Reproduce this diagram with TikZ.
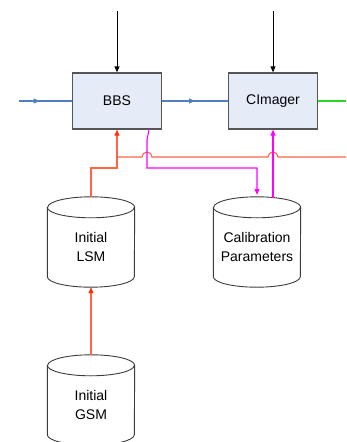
\documentclass[tikz,border=0pt]{standalone}
\usepackage{fontspec}
\setmainfont{Liberation Sans}
\usetikzlibrary{arrows.meta,decorations.markings}

\definecolor{boxfill}{RGB}{230,236,247}
\definecolor{boxline}{RGB}{85,85,85}
\definecolor{drumline}{RGB}{60,60,60}
\definecolor{flowblue}{RGB}{79,127,192}
\definecolor{flowgreen}{RGB}{40,215,40}
\definecolor{flowred}{RGB}{255,100,70}
\definecolor{tipred}{RGB}{255,51,0}
\definecolor{flowmag}{RGB}{255,0,255}

\tikzset{
  proc/.style={draw=boxline, fill=boxfill, line width=1.3pt,
    minimum width=89pt, minimum height=56pt, inner sep=0pt,
    font=\fontsize{14}{19}\selectfont},
  store/.style={minimum width=87pt, minimum height=79.5pt, inner sep=0pt,
    align=center, font=\fontsize{14}{19}\selectfont},
  tip/.style={-{Triangle[length=6pt,width=5pt]}},
  redtip/.style={-{Triangle[length=6pt,width=5pt,color=tipred]}},
  conn/.style={line width=1.1pt},
  midtip/.style={decoration={markings,
      mark=at position #1 with {\arrow{Triangle[length=6pt,width=5pt]}}},
    postaction={decorate}},
}

% cylinder outline around a store node: top ellipse centred on .north,
% bottom ellipse centred 10.5pt above .south
\newcommand\drawdrum[1]{%
  \draw[drumline, line width=0.9pt, fill=white]
    (#1.north west) -- ([yshift=10.5pt]#1.south west)
    arc[start angle=180, end angle=360, x radius=43.5pt, y radius=10.5pt]
    -- (#1.north east)
    arc[start angle=0, end angle=180, x radius=43.5pt, y radius=10.5pt]
    -- cycle;
  \draw[drumline, line width=0.9pt] (#1.north west)
    arc[start angle=180, end angle=360, x radius=43.5pt, y radius=10.5pt];
}

\begin{document}
\begin{tikzpicture}[x=1pt, y=-1pt]
  \useasboundingbox (0,0) rectangle (346,442);

  % processing steps
  \node[proc] (bbs) at (117,101) {BBS};
  \node[proc] (cimg) at (273,101) {CImager};

  % data stores
  \node[store] (lsm) at (91,247.25) {};
  \node[store] (cal) at (257,247.25) {};
  \node[store] (gsm) at (91,405.25) {};
  \drawdrum{lsm}
  \drawdrum{cal}
  \drawdrum{gsm}
  \node[store] at (lsm) {Initial\\LSM};
  \node[store] at (cal) {Calibration\\Parameters};
  \node[store] at (gsm) {Initial\\GSM};

  % free ends
  \coordinate (bbsctl) at (117,11);
  \coordinate (cimgctl) at (273,11);
  \coordinate (visin) at (19,101);
  \coordinate (imgout) at (346,101);
  \coordinate (lsmjoin) at (117,168);
  \coordinate (lsmfork) at (117,157);
  \coordinate (modelout) at (346,157);

  % control inputs
  \draw[line width=0.9pt, tip] (bbsctl) -- (bbs.north);
  \draw[line width=0.9pt, tip] (cimgctl) -- (cimg.north);

  % visibility data flow
  \draw[conn, flowblue, midtip=0.39] (visin) -- (bbs.west);
  \draw[conn, flowblue, midtip=0.5] (bbs.east) -- (cimg.west);
  \draw[conn, flowgreen] (cimg.east) -- (imgout);

  % sky model flow
  \draw[conn, flowred, redtip] ([yshift=10.5pt]gsm.north) -- (lsm.south);
  \draw[conn, flowred, redtip] ([yshift=10.5pt]lsm.north) |- (lsmjoin) -- (bbs.south);
  \draw[conn, flowred] (lsmfork) -- (142,157)
    arc[start angle=180, end angle=360, radius=5]
    -- (268,157)
    arc[start angle=180, end angle=360, radius=5]
    -- (modelout);

  % calibration solutions
  \draw[conn, flowmag, tip] ([xshift=32pt]bbs.south) -- (147,140) -- (147,168)
    -| ([yshift=12.5pt]cal.north);
  \draw[conn, flowmag, tip] ([xshift=16pt,yshift=9.8pt]cal.north) -- (cimg.south);
\end{tikzpicture}
\end{document}
